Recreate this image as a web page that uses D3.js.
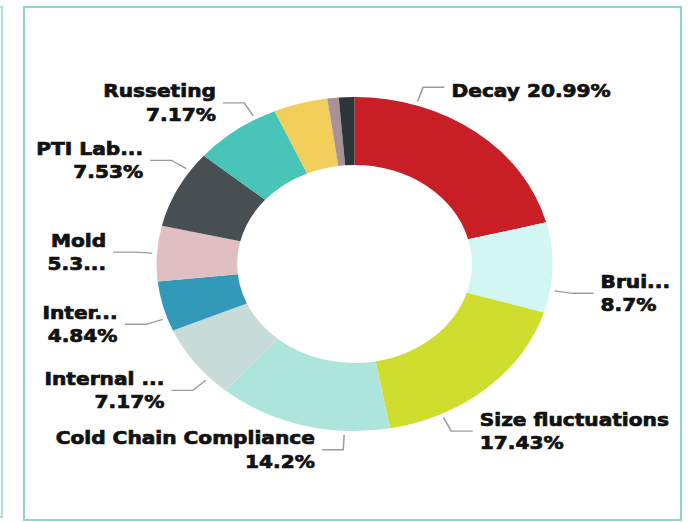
<!DOCTYPE html>
<html lang="en">
<head>
<meta charset="UTF-8">
<title>Defect share donut</title>
<script src="https://d3js.org/d3.v7.min.js"></script>
<style>
  body { margin: 0; background: #fff; }
  svg text { font-family: "DejaVu Sans", sans-serif; font-weight: bold; fill: #121212; font-size: 17px;
             stroke: #121212; stroke-width: 0.7px; }
</style>
</head>
<body>
<svg id="donut" width="690" height="522"></svg>
<script>
// slice data, clockwise from 12 o'clock
const categories = ["Decay", "Bruising", "Size fluctuations", "Cold Chain Compliance", "Internal Browning",
                    "Internal Cracks", "Mold", "PTI Labeling", "Russeting", "Sunburn", "Sprouting", "Other"];
const shares = [20.99, 8.7, 17.43, 14.2, 7.17, 4.84, 5.36, 7.53, 7.17, 4.41, 0.93, 1.27];
const colors = ["#c81f27", "#d2f6f3", "#cfdd2e", "#ade5dd", "#c7dbd9", "#3399b8",
                "#e0bfc2", "#474f52", "#48c4b8", "#f2cf5a", "#a89295", "#2a3638"];
// label text as shown (truncated on the dashboard), null = no label
const labelLines = [["Decay 20.99%"], ["Brui...", "8.7%"], ["Size fluctuations", "17.43%"],
                    ["Cold Chain Compliance", "14.2%"], ["Internal ...", "7.17%"], ["Inter...", "4.84%"],
                    ["Mold", "5.3..."], ["PTI Lab...", "7.53%"], ["Russeting", "7.17%"], null, null, null];
// where along each slice the leader leaves (0 = slice start, 1 = slice end)
const leaderAt = [0.24, 0.75, 0.75, 0.26, 0.25, 0.26, 0.5, 0.76, 0.76, null, null, null];

const svg = d3.select("#donut");

// panel borders
svg.append("rect")
    .attr("x", 24).attr("y", 7).attr("width", 657).attr("height", 513)
    .attr("fill", "none").attr("stroke", "#8ad8ca").attr("stroke-width", 2);
svg.append("path")
    .attr("d", "M-5,7 H2 V517 H-5")
    .attr("fill", "none").attr("stroke", "#a8e3d9").attr("stroke-width", 2);

const cx = 354.5, cy = 264, stretch = 1.185;
const outerR = 167, innerR = 99;

const g = svg.append("g")
    .attr("transform", `translate(${cx},${cy}) scale(${stretch},1)`);

const pie = d3.pie().sort(null).value(d => d);
const arcs = pie(shares);
const arc = d3.arc().innerRadius(innerR).outerRadius(outerR);

g.selectAll("path.slice")
    .data(arcs)
    .enter().append("path")
    .attr("class", "slice")
    .attr("d", arc)
    .attr("fill", (d, i) => colors[i]);

// labels with leader lines
const pt = (a, r) => [r * Math.sin(a), -r * Math.cos(a)];
const lab = arcs.map((d, i) => ({ d, i })).filter(o => labelLines[o.i]);

lab.forEach(({ d, i }) => {
    const a = d.startAngle + (d.endAngle - d.startAngle) * leaderAt[i];
    const right = Math.sin(a) > 0;
    const p0 = pt(a, outerR + 4);
    const p1 = pt(a, outerR + 19);
    const p2 = [p1[0] + (right ? 18 : -18), p1[1]];
    g.append("path")
        .attr("d", d3.line()([p0, p1, p2]))
        .attr("fill", "none")
        .attr("stroke", "#9c9c9c")
        .attr("stroke-width", 1.3);

    const lines = labelLines[i];
    const t = g.append("text")
        .attr("x", p2[0] + (right ? 6 : -6))
        .attr("y", p2[1])
        .attr("text-anchor", right ? "start" : "end");
    lines.forEach((s, k) => {
        t.append("tspan")
            .attr("x", p2[0] + (right ? 6 : -6))
            .attr("y", p2[1] + (lines.length === 1 ? 4 : (k === 0 ? -11.5 : 12)))
            .attr("dominant-baseline", "central")
            .text(s);
    });
});
</script>
</body>
</html>
